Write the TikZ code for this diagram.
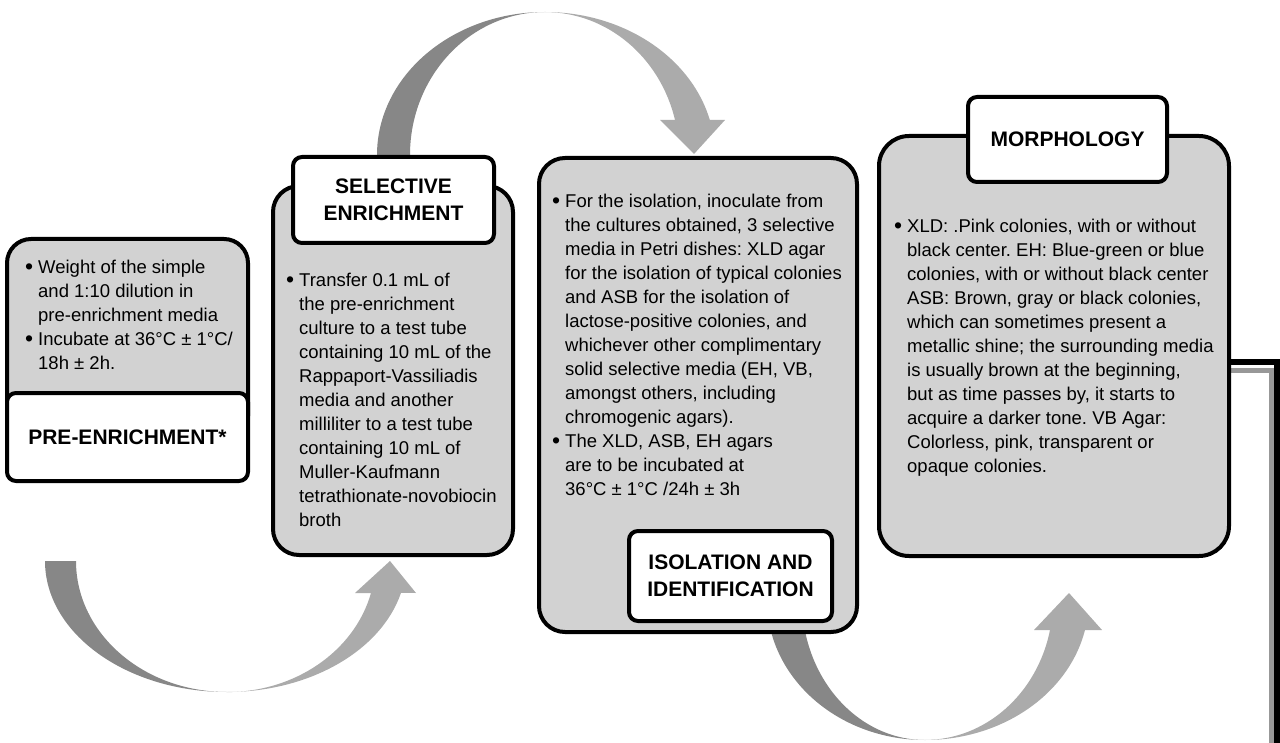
\documentclass[tikz,border=0pt]{standalone}
\usepackage{fontspec}
\setmainfont{Liberation Sans}
\usepackage{xcolor}
\definecolor{boxgray}{RGB}{210,210,210}
\definecolor{arrowdark}{RGB}{135,135,135}
\definecolor{arrowlight}{RGB}{171,171,171}
\definecolor{edgegray}{RGB}{152,152,152}
\usepackage{tikz}
\usetikzlibrary{positioning}
\newcommand{\dotmark}{{\fontsize{23}{24}\selectfont\raisebox{-0.5pt}{•}}}

\begin{document}
\frenchspacing
\begin{tikzpicture}[
    x=1pt, y=1pt,
    stage/.style={rectangle, rounded corners=26pt, draw=black, line width=4pt,
                  fill=boxgray, inner sep=0pt},
    tag/.style={rectangle, rounded corners=9pt, draw=black, line width=4pt,
                fill=white, inner sep=0pt, align=center,
                font=\fontsize{21}{27}\selectfont\bfseries},
    body/.style={inner sep=0pt, anchor=north west,
                 font=\fontsize{18.5}{24}\selectfont},
    darkhalf/.style={fill=arrowdark},
    lighthalf/.style={fill=arrowlight},
  ]
  \useasboundingbox (0,0) rectangle (1280,-743);

  %% curved arrows (behind the boxes)
  % selective enrichment -> isolation
  \path[darkhalf] (377,-160) -- (377,-155)
      arc[start angle=180, end angle=90, x radius=168, y radius=143]
      arc[start angle=90, end angle=180, x radius=135, y radius=143]
      -- (410,-160) -- cycle;
  \path[lighthalf] (545,-12)
      arc[start angle=90, end angle=14.2, x radius=170, y radius=143]
      -- (725,-120) -- (694,-154) -- (660,-120) -- (675,-120)
      arc[start angle=14.2, end angle=90, x radius=134, y radius=143]
      -- cycle;

  % pre-enrichment -> selective enrichment
  \path[darkhalf] (45,-561)
      arc[start angle=180, end angle=270, x radius=182, y radius=131]
      arc[start angle=270, end angle=180, x radius=151, y radius=131]
      -- cycle;
  \path[lighthalf] (227,-692)
      arc[start angle=270, end angle=345.9, x radius=179.4, y radius=131]
      -- (416,-593) -- (390,-561) -- (355,-593) -- (371,-593)
      arc[start angle=345.9, end angle=270, x radius=148.5, y radius=131]
      -- cycle;

  % isolation -> morphology
  \path[darkhalf] (767,-600)
      arc[start angle=180, end angle=270, x radius=158, y radius=140]
      arc[start angle=270, end angle=180, x radius=123, y radius=140]
      -- cycle;
  \path[lighthalf] (925,-740)
      arc[start angle=270, end angle=347.6, x radius=163.8, y radius=140]
      -- (1102,-630) -- (1069,-593) -- (1034,-630) -- (1050,-630)
      arc[start angle=347.6, end angle=270, x radius=128, y radius=140]
      -- cycle;

  %% edge of the next step, cut off at the right
  \draw[edgegray, line width=5pt] (1225,-370) -- (1271,-370) -- (1271,-743);
  \draw[black, line width=6pt] (1225,-362) -- (1277,-362) -- (1277,-743);

  %% PRE-ENRICHMENT
  \node[stage, rounded corners=24pt, minimum width=241pt, minimum height=201pt]
      (prebox) at (127.5,-339.5) {};
  \node[tag, minimum width=241pt, minimum height=88pt] (prelabel) at (127.5,-437)
      {PRE-ENRICHMENT*};
  \node[body, below right=20pt and 20pt of prebox.north west] (pretext)
      {\begin{tabular}{@{}p{13pt}@{}l@{}}
       \dotmark & Weight of the simple\\
                & and 1:10 dilution in\\
                & pre-enrichment media\\
       \dotmark & Incubate at 36°C ± 1°C/\\
                & 18h ± 2h.
       \end{tabular}};

  %% SELECTIVE ENRICHMENT
  \node[stage, minimum width=240pt, minimum height=369pt] (selbox) at (393,-370.5) {};
  \node[tag, minimum width=201pt, minimum height=86pt] (sellabel) at (393.5,-200)
      {SELECTIVE\\ENRICHMENT};
  \node[body, below right=85.5pt and 15pt of selbox.north west] (seltext)
      {\begin{tabular}{@{}p{13pt}@{}l@{}}
       \dotmark & Transfer 0.1 mL of\\
                & the pre-enrichment\\
                & culture to a test tube\\
                & containing 10 mL of the\\
                & Rappaport-Vassiliadis\\
                & media and another\\
                & milliliter to a test tube\\
                & containing 10 mL of\\
                & Muller-Kaufmann\\
                & tetrathionate-novobiocin\\
                & broth
       \end{tabular}};

  %% ISOLATION AND IDENTIFICATION
  \node[stage, minimum width=318pt, minimum height=474pt] (isobox) at (698,-395) {};
  \node[tag, minimum width=203pt, minimum height=90pt] (isolabel) at (730.5,-576)
      {ISOLATION AND\\IDENTIFICATION};
  \node[body, below right=35pt and 15pt of isobox.north west] (isotext)
      {\begin{tabular}{@{}p{13pt}@{}l@{}}
       \dotmark & For the isolation, inoculate from\\
                & the cultures obtained, 3 selective\\
                & media in Petri dishes: XLD agar\\
                & for the isolation of typical colonies\\
                & and ASB for the isolation of\\
                & lactose-positive colonies, and\\
                & whichever other complimentary\\
                & solid selective media (EH, VB,\\
                & amongst others, including\\
                & chromogenic agars).\\
       \dotmark & The XLD, ASB, EH agars\\
                & are to be incubated at\\
                & 36°C ± 1°C /24h ± 3h
       \end{tabular}};

  %% MORPHOLOGY
  \node[stage, rounded corners=30pt, minimum width=350pt, minimum height=420pt]
      (morphbox) at (1054,-346) {};
  \node[tag, minimum width=199pt, minimum height=85pt] (morphlabel) at (1067.5,-139.5)
      {MORPHOLOGY};
  \node[body, below right=82pt and 17pt of morphbox.north west] (morphtext)
      {\begin{tabular}{@{}p{13pt}@{}l@{}}
       \dotmark & XLD: .Pink colonies, with or without\\
                & black center. EH: Blue-green or blue\\
                & colonies, with or without black center\\
                & ASB: Brown, gray or black colonies,\\
                & which can sometimes present a\\
                & metallic shine; the surrounding media\\
                & is usually brown at the beginning,\\
                & but as time passes by, it starts to\\
                & acquire a darker tone. VB Agar:\\
                & Colorless, pink, transparent or\\
                & opaque colonies.
       \end{tabular}};

\end{tikzpicture}
\end{document}
